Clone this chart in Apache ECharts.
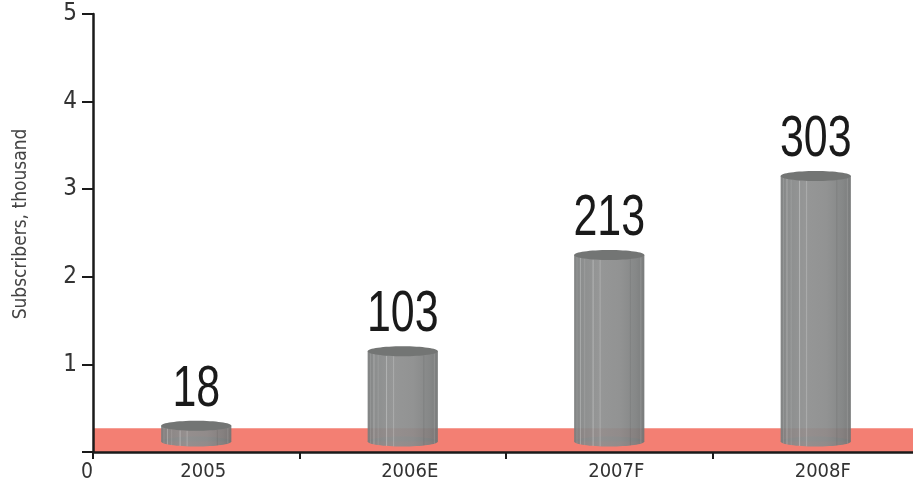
<!DOCTYPE html>
<html>
<head>
<meta charset="utf-8">
<script src="https://cdn.jsdelivr.net/npm/echarts@6/dist/echarts.min.js"></script>
<style>
  html, body { margin: 0; padding: 0; background: #ffffff; }
  #chart { width: 913px; height: 483px; }
</style>
</head>
<body>
<div id="chart"></div>
<script>
// Subscriber counts by year (labels show the raw values)
const categories = ['2005', '2006E', '2007F', '2008F'];
const subscribers = [18, 103, 213, 303];
const yTickLabels = ['0', '1', '2', '3', '4', '5'];
const axisTitle = 'Subscribers, thousand';

const FONT = "'Liberation Sans Narrow', 'DejaVu Sans Condensed', 'Roboto', sans-serif";
const VALUE_FONT = "'Liberation Sans', Arial, sans-serif";
const BASE = 12;        // cylinders stand slightly above the axis, inside the band
const BAND_TOP = 27;    // salmon floor band height in axis units
const GRID = { left: 93, width: 826, top: 14, bottom: 31, outerBoundsMode: 'none', containLabel: false };

const chart = echarts.init(document.getElementById('chart'), null, { renderer: 'canvas' });

const bodyGradient = () => new echarts.graphic.LinearGradient(0, 0, 1, 0, [
  { offset: 0.00, color: '#7a7c7c' },
  { offset: 0.10, color: '#858787' },
  { offset: 0.35, color: '#8f9090' },
  { offset: 0.65, color: '#8b8c8c' },
  { offset: 0.88, color: '#7e8080' },
  { offset: 1.00, color: '#727474' }
]);

// vertical highlight/shade stripes across the cylinder body
const stripes = [
  { p: 0.04, c: 'rgba(255,255,255,0.12)' },
  { p: 0.09, c: 'rgba(255,255,255,0.25)' },
  { p: 0.15, c: 'rgba(255,255,255,0.12)' },
  { p: 0.27, c: 'rgba(255,255,255,0.30)' },
  { p: 0.37, c: 'rgba(255,255,255,0.22)' },
  { p: 0.80, c: 'rgba(0,0,0,0.08)' },
  { p: 0.95, c: 'rgba(255,255,255,0.14)' }
];

function renderCylinder(params, api) {
  const idx = api.value(0);
  const val = api.value(1);
  const bottom = api.coord([idx, BASE]);
  const top = api.coord([idx, BASE + val]);
  const cx = bottom[0];
  const w = api.size([1, 0])[0] * 0.34;
  const rx = w / 2;
  const ry = 5;
  const x0 = cx - rx;
  const children = [
    { type: 'ellipse', shape: { cx: cx, cy: bottom[1], rx: rx, ry: ry },
      style: { fill: bodyGradient(), opacity: 0.94 } },
    { type: 'rect', shape: { x: x0, y: top[1], width: w, height: bottom[1] - top[1] },
      style: { fill: bodyGradient(), opacity: 0.94 } }
  ];
  stripes.forEach(s => {
    const sx = x0 + w * s.p;
    const dx = (sx - cx) / rx;
    const dy = ry * Math.sqrt(Math.max(0, 1 - dx * dx));
    children.push({ type: 'line',
      shape: { x1: sx, y1: top[1] + dy, x2: sx, y2: bottom[1] + dy },
      style: { stroke: s.c, lineWidth: 1 } });
  });
  children.push({ type: 'ellipse', shape: { cx: cx, cy: top[1], rx: rx, ry: ry },
    style: { fill: '#737574' } });
  children.push({ type: 'text', x: cx, y: top[1] - ry - 2, scaleX: 0.74,
    style: { text: String(val), fill: '#1a1a1a', font: '58px ' + VALUE_FONT,
             align: 'center', verticalAlign: 'bottom' } });
  return { type: 'group', children: children };
}

chart.setOption({
  animation: false,
  backgroundColor: '#ffffff',
  grid: GRID,
  xAxis: {
    type: 'category',
    data: categories,
    boundaryGap: true,
    z: 10,
    axisLine: { lineStyle: { color: '#1a1a1a', width: 2.5 } },
    axisTick: { show: true, length: 7, lineStyle: { color: '#1a1a1a', width: 2 } },
    axisLabel: { color: '#333333', fontFamily: FONT, fontSize: 20, margin: 10, padding: [0, 0, 0, 14] }
  },
  yAxis: {
    type: 'value',
    min: 0,
    max: 500,
    interval: 100,
    z: 10,
    name: axisTitle,
    nameLocation: 'middle',
    nameRotate: 90,
    nameGap: 62,
    nameTextStyle: { color: '#444444', fontFamily: FONT, fontSize: 19, padding: [0, 0, 0, 18] },
    splitLine: { show: false },
    axisLine: { show: true, lineStyle: { color: '#1a1a1a', width: 2.5 } },
    axisTick: { show: true, length: 11, lineStyle: { color: '#1a1a1a', width: 2 } },
    axisLabel: {
      color: '#333333', fontFamily: FONT, fontSize: 24, margin: 16,
      formatter: v => (v === 0 ? '' : yTickLabels[Math.round(v / 100)])
    }
  },
  series: [
    {
      type: 'line',
      data: [],
      silent: true,
      z: 1,
      markArea: {
        silent: true,
        itemStyle: { color: '#f37f73' },
        data: [[{ yAxis: 0 }, { yAxis: BAND_TOP }]]
      }
    },
    {
      type: 'custom',
      z: 5,
      data: subscribers.map((v, i) => [i, v]),
      renderItem: renderCylinder,
      clip: false
    }
  ]
});

// origin label sits under the corner where the two axes meet
const origin = chart.convertToPixel({ yAxisIndex: 0 }, 0);
chart.setOption({
  graphic: [{
    type: 'text', left: GRID.left - 12, top: origin + 10,
    style: { text: yTickLabels[0], fill: '#333333', font: '21px ' + FONT }
  }]
});
</script>
</body>
</html>
